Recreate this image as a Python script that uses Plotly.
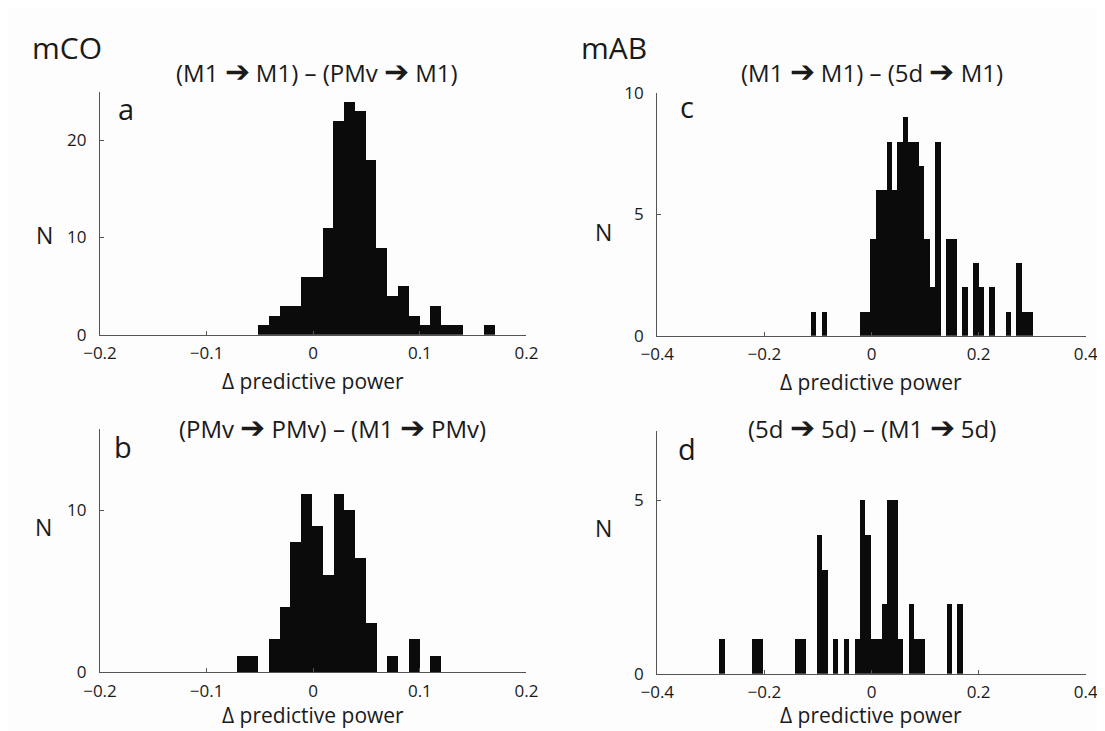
import plotly.graph_objects as go

W, H = 1105, 731

# ---- data (bin counts) ----
counts_a = [1, 2, 3, 3, 6, 6, 11, 22, 24, 23, 18, 9, 4, 5, 2, 1, 3, 1, 1, 0, 0, 1]
start_a, width_a = -0.0518, 0.0101

counts_b = [1, 1, 0, 2, 4, 8, 11, 9, 6, 11, 10, 7, 3, 0, 1, 0, 2, 0, 1]
start_b, width_b = -0.0719, 0.0101

counts_c = [1, 0, 1, 0, 0, 0, 0, 0, 0, 1, 1, 4, 6, 6, 8, 6, 8, 9, 8, 8, 7, 4, 2, 8,
            0, 4, 4, 0, 2, 0, 3, 2, 0, 2, 0, 0, 1, 0, 3, 1, 1]
start_c, width_c = -0.1127, 0.0101

counts_d = [1, 0, 0, 0, 0, 0, 1, 1, 0, 0, 0, 0, 0, 0, 1, 1, 0, 0, 4, 3, 0, 1, 0, 1,
            0, 1, 5, 4, 1, 1, 2, 5, 5, 1, 0, 2, 1, 1, 0, 0, 0, 0, 2, 0, 2]
start_d, width_d = -0.2836, 0.0101

ARROW = '<span style="font-size:30px">\u2794</span>'
titles = [f"(M1 {ARROW} M1) \u2013 (PMv {ARROW} M1)",
          f"(PMv {ARROW} PMv) \u2013 (M1 {ARROW} PMv)",
          f"(M1 {ARROW} M1) \u2013 (5d {ARROW} M1)",
          f"(5d {ARROW} 5d) \u2013 (M1 {ARROW} 5d)"]
letters = ["a", "b", "c", "d"]
xlabel = "\u0394 predictive power"
ticks_x_small = [-0.2, -0.1, 0, 0.1, 0.2]
ticktext_x_small = ["\u22120.2", "\u22120.1", "0", "0.1", "0.2"]
ticks_x_big = [-0.4, -0.2, 0, 0.2, 0.4]
ticktext_x_big = ["\u22120.4", "\u22120.2", "0", "0.2", "0.4"]

FONT = "Open Sans"
AX_COLOR = "#555555"
TXT = "#1a1a1a"


def px(x):
    return x / W


def py(y):
    return 1 - y / H


panels = [
    dict(counts=counts_a, start=start_a, width=width_a, xr=[-0.2, 0.2], yr=[0, 25],
         yt=[0, 10, 20], xt=ticks_x_small, xtt=ticktext_x_small,
         xd=[77, 515], yd=[74, 325]),
    dict(counts=counts_b, start=start_b, width=width_b, xr=[-0.2, 0.2], yr=[0, 15],
         yt=[0, 10], xt=ticks_x_small, xtt=ticktext_x_small,
         xd=[77, 515], yd=[422.7, 673.3]),
    dict(counts=counts_c, start=start_c, width=width_c, xr=[-0.4, 0.4], yr=[0, 10],
         yt=[0, 5, 10], xt=ticks_x_big, xtt=ticktext_x_big,
         xd=[649.3, 1089.3], yd=[75, 326]),
    dict(counts=counts_d, start=start_d, width=width_d, xr=[-0.4, 0.4], yr=[0, 7],
         yt=[0, 5], xt=ticks_x_big, xtt=ticktext_x_big,
         xd=[649.3, 1089.3], yd=[424.3, 675]),
]

fig = go.Figure()
layout = {}
for i, p in enumerate(panels):
    n = i + 1
    xs = [p["start"] + (k + 0.5) * p["width"] for k in range(len(p["counts"]))]
    fig.add_trace(go.Bar(
        x=xs, y=p["counts"], width=p["width"],
        marker=dict(color="#0b0b0b", line=dict(width=0)),
        xaxis="x" if n == 1 else f"x{n}", yaxis="y" if n == 1 else f"y{n}",
        showlegend=False, hoverinfo="x+y"))
    xa = dict(domain=[px(p["xd"][0]), px(p["xd"][1])], range=p["xr"],
              anchor="y" if n == 1 else f"y{n}",
              showgrid=False, zeroline=False, showline=True, linecolor=AX_COLOR,
              linewidth=1.3, ticks="inside", ticklen=4, tickcolor=AX_COLOR,
              tickwidth=1, tickvals=p["xt"], ticktext=p["xtt"],
              ticklabelstandoff=3,
              tickfont=dict(family=FONT, size=17, color=TXT), fixedrange=True)
    ya = dict(domain=[py(p["yd"][1]), py(p["yd"][0])], range=p["yr"],
              anchor="x" if n == 1 else f"x{n}",
              showgrid=False, zeroline=False, showline=True, linecolor=AX_COLOR,
              linewidth=1.3, ticks="inside", ticklen=4, tickcolor=AX_COLOR,
              tickwidth=1, tickvals=p["yt"], ticklabelstandoff=9,
              tickfont=dict(family=FONT, size=17, color=TXT), fixedrange=True)
    layout["xaxis" if n == 1 else f"xaxis{n}"] = xa
    layout["yaxis" if n == 1 else f"yaxis{n}"] = ya

annots = []


def ann(text, x, y, size, xanchor="center", yanchor="middle"):
    annots.append(dict(text=text, x=px(x), y=py(y), xref="paper", yref="paper",
                       showarrow=False, xanchor=xanchor, yanchor=yanchor,
                       font=dict(family=FONT, size=size, color=TXT)))


ann("mCO", 5, 28, 30, xanchor="left")
ann("mAB", 569, 28, 30, xanchor="left")
ann(titles[0], 300, 52, 24)
ann(titles[1], 316, 420, 24)
ann(titles[2], 870, 52, 24)
ann(titles[3], 870, 420, 24)
ann(letters[0], 104, 91, 29)
ann(letters[1], 101, 440, 29)
ann(letters[2], 680, 89, 29)
ann(letters[3], 680, 442, 29)
for (x, y) in [(20, 222), (19, 523), (594, 219), (594, 524)]:
    ann("N", x, y, 23)
for (x, y) in [(296, 373), (296, 718), (869, 374), (869, 718)]:
    ann(xlabel, x, y, 21)

fig.update_layout(
    width=W, height=H, margin=dict(l=0, r=0, t=0, b=0),
    paper_bgcolor="#fdfdfd", plot_bgcolor="#fdfdfd",
    bargap=0, annotations=annots, **layout)

fig.write_html("out.html")
